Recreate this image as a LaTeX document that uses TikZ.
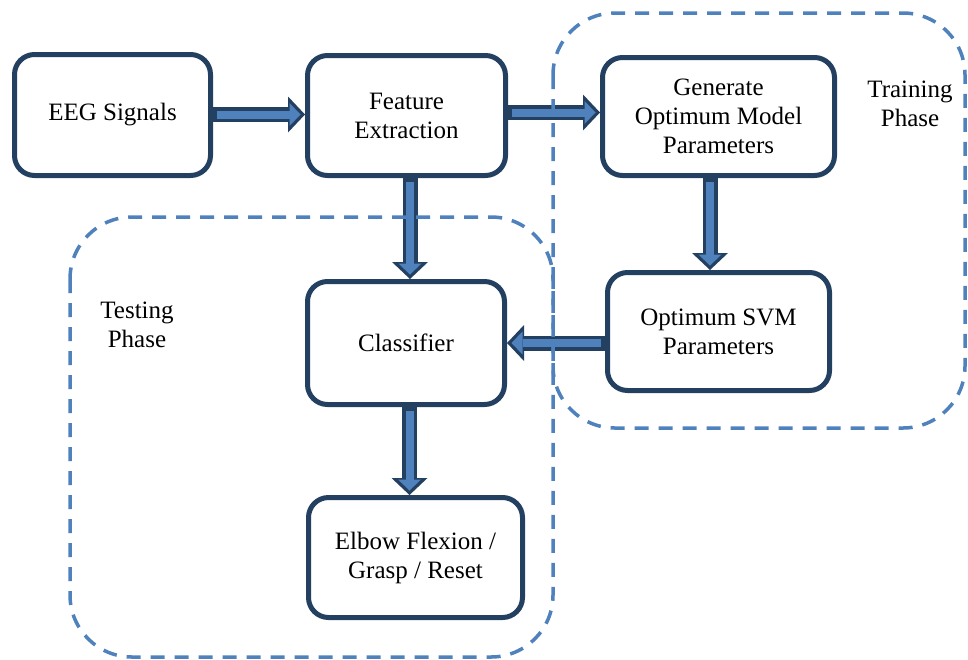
\documentclass[tikz,border=0pt]{standalone}
\usepackage{fontspec}
\setmainfont{Liberation Serif}
\usetikzlibrary{arrows.meta,positioning}
\definecolor{boxline}{RGB}{36,64,97}
\definecolor{flowblue}{RGB}{79,129,189}
\tikzset{
  stage/.style={
    rectangle,
    rounded corners=20pt,
    draw=boxline, line width=5pt,
    fill=white,
    inner sep=0pt,
    align=center,
    font=\fontsize{25}{29}\selectfont},
  flowout/.style={draw=boxline, line width=15pt,
    -{Triangle[length=17pt,width=36pt,line width=0pt]}},
  flowin/.style={draw=flowblue, line width=8pt,
    -{Triangle[length=11pt,width=23pt,line width=0pt]},
    shorten >=4.5pt, shorten <=4pt},
  phase/.style={draw=flowblue, line width=3.5pt,
    dash pattern=on 14pt off 10pt, rounded corners=62pt},
  phaselabel/.style={align=center, font=\fontsize{25}{29}\selectfont},
}
\begin{document}
\begin{tikzpicture}[x=1pt, y=-1pt]
  \useasboundingbox (0,0) rectangle (968,659);
  % stages
  \node[stage, minimum width=196pt, minimum height=121pt] (eeg) at (112.5,115) {EEG Signals};
  \node[stage, minimum width=198pt, minimum height=120pt] (feat) at (406.5,115.5) {Feature\\Extraction};
  \node[stage, minimum width=232pt, minimum height=118pt] (gen) at (718.5,116.5) {Generate\\Optimum Model\\Parameters};
  \node[stage, minimum width=222pt, minimum height=118pt] (svm) at (718.5,331.5) {Optimum SVM\\Parameters};
  \node[stage, minimum width=197pt, minimum height=123pt] (cls) at (406,343) {Classifier};
  \node[stage, minimum width=214pt, minimum height=120pt] (elb) at (415.5,557.5) {Elbow Flexion /\\Grasp / Reset};
  % block arrows
  \foreach \layer in {flowout,flowin}{
    \draw[\layer] ([yshift=0.5pt]eeg.east) -- ([yshift=0.5pt]eeg.east -| feat.west);
    \draw[\layer] ([yshift=3pt]feat.east) -- ([yshift=3pt]feat.east -| gen.west);
    \draw[\layer] ([xshift=3.5pt]feat.south) -- ([xshift=3.5pt]feat.south |- cls.north);
    \draw[\layer] ([xshift=-8.5pt]gen.south) -- ([xshift=-8.5pt]gen.south |- svm.north);
    \draw[\layer] (svm.west |- cls.east) -- (cls.east);
    \draw[\layer] ([xshift=3.5pt]cls.south) -- ([xshift=3.5pt]cls.south |- elb.north);
  }
  % phases
  \draw[phase] (553,13) rectangle (965,428);
  \draw[phase] (70,217) rectangle (553,657);
  \node[phaselabel] (train) at (910,104) {Training\\Phase};
  \node[phaselabel] (test) at (137,325) {Testing\\Phase};
\end{tikzpicture}
\end{document}
